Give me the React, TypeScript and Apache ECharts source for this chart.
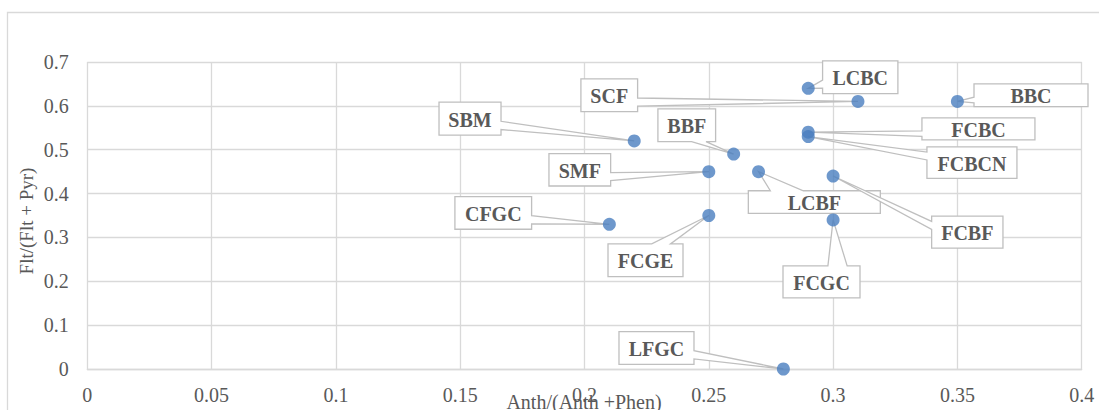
import React, { useEffect, useRef } from "react";
import * as echarts from "echarts";

const names = ["SCF", "SBM", "BBF", "SMF", "CFGC", "FCGE", "LFGC", "LCBC", "BBC", "FCBC", "FCBCN", "LCBF", "FCBF", "FCGC"];
const xValues = [0.31, 0.22, 0.26, 0.25, 0.21, 0.25, 0.28, 0.29, 0.35, 0.29, 0.29, 0.27, 0.30, 0.30];
const yValues = [0.61, 0.52, 0.49, 0.45, 0.33, 0.35, 0.0, 0.64, 0.61, 0.54, 0.53, 0.45, 0.44, 0.34];

// callout box layout: centre offset from the point (px) and box size
const calloutLayout = [
  { dx: -248.7, dy: -6.2, w: 56.7, h: 32.7 },
  { dx: -164.2, dy: -22.4, w: 62, h: 33 },
  { dx: -46.9, dy: -28.8, w: 57.7, h: 32.7 },
  { dx: -129, dy: -1.8, w: 61.7, h: 32.3 },
  { dx: -116.1, dy: -11.3, w: 76.7, h: 32.6 },
  { dx: -63.3, dy: 44.8, w: 75, h: 32.7 },
  { dx: -126.9, dy: -21, w: 75, h: 32.6 },
  { dx: 52, dy: -11, w: 75.3, h: 32.7 },
  { dx: 73.6, dy: -6.2, w: 114, h: 22.7 },
  { dx: 170.2, dy: -3.2, w: 113, h: 22 },
  { dx: 163.7, dy: 26, w: 90, h: 31.5 },
  { dx: 55.8, dy: 30.4, w: 132, h: 22.6 },
  { dx: 134.2, dy: 56, w: 71.3, h: 32 },
  { dx: -11.6, dy: 62, w: 77, h: 32 },
];

const FONT = "Liberation Serif";
const TEXT_COLOR = "#595959";
const GRID_COLOR = "#d9d9d9";

function fmt(v: number) {
  return String(+v.toFixed(2));
}

function calloutPoints(l: number, t: number, w: number, h: number, px: number, py: number) {
  const r = l + w;
  const b = t + h;
  const hc = l + w / 2;
  const vc = t + h / 2;
  const dxPos = px - hc;
  const dyPos = py - vc;
  const dq = (dxPos * h) / w;
  const dz = Math.abs(dyPos) - Math.abs(dq);
  const x1 = l + (w * (dxPos > 0 ? 7 : 2)) / 12;
  const x2 = l + (w * (dxPos > 0 ? 10 : 5)) / 12;
  const y1 = t + (h * (dyPos > 0 ? 7 : 2)) / 12;
  const y2 = t + (h * (dyPos > 0 ? 10 : 5)) / 12;
  const pts: number[][] = [];
  pts.push([l, t], [x1, t]);
  if (dz > 0 && dyPos <= 0) pts.push([px, py]);
  pts.push([x2, t], [r, t], [r, y1]);
  if (dz <= 0 && dxPos > 0) pts.push([px, py]);
  pts.push([r, y2], [r, b], [x2, b]);
  if (dz > 0 && dyPos > 0) pts.push([px, py]);
  pts.push([x1, b], [l, b], [l, y2]);
  if (dz <= 0 && dxPos <= 0) pts.push([px, py]);
  pts.push([l, y1]);
  return pts;
}

export default function App() {
  const ref = useRef<HTMLDivElement>(null);
  useEffect(() => {
    if (!ref.current) return;
    const chart = echarts.init(ref.current, null, { renderer: "svg" });
    const data = names.map((n, i) => [xValues[i], yValues[i], n]);
    chart.setOption({
      animation: false,
      backgroundColor: "#ffffff",
      textStyle: { fontFamily: FONT },
      grid: { left: 87.3, right: 17.3, top: 62, bottom: 41, containLabel: false },
      xAxis: {
        type: "value",
        min: 0,
        max: 0.4,
        interval: 0.05,
        axisLine: { show: true, lineStyle: { color: GRID_COLOR, width: 1.3 } },
        axisTick: { show: false },
        splitLine: { show: true, lineStyle: { color: GRID_COLOR, width: 1.3 } },
        axisLabel: { color: TEXT_COLOR, fontFamily: FONT, fontSize: 20, margin: 16, formatter: fmt },
      },
      yAxis: {
        type: "value",
        min: 0,
        max: 0.7,
        interval: 0.1,
        axisLine: { show: false },
        axisTick: { show: false },
        splitLine: { show: true, lineStyle: { color: GRID_COLOR, width: 1.3 } },
        axisLabel: { color: TEXT_COLOR, fontFamily: FONT, fontSize: 20, margin: 18.5, formatter: fmt },
      },
      series: [
        {
          type: "scatter",
          data,
          symbolSize: 13,
          z: 5,
          itemStyle: { color: "#4a7ebf" },
        },
      ],
    });

    const graphics: any[] = [
      {
        type: "rect",
        shape: { x: 7.5, y: 12.5, width: 1300, height: 600 },
        style: { fill: "none", stroke: GRID_COLOR, lineWidth: 1.3 },
        z: 0,
        silent: true,
      },
      {
        type: "text",
        x: 26,
        y: 221,
        rotation: Math.PI / 2,
        style: {
          text: "Flt/(Flt + Pyr)",
          fontFamily: FONT,
          fontSize: 19,
          fill: TEXT_COLOR,
          align: "center",
          verticalAlign: "middle",
        },
        z: 10,
      },
      {
        type: "text",
        x: 584,
        y: 402,
        style: {
          text: "Anth/(Anth +Phen)",
          fontFamily: FONT,
          fontSize: 20,
          fill: TEXT_COLOR,
          align: "center",
          verticalAlign: "middle",
        },
        z: 10,
      },
    ];

    names.forEach((n, i) => {
      const p = chart.convertToPixel({ gridIndex: 0 }, [xValues[i], yValues[i]]) as number[];
      const lay = calloutLayout[i];
      const cx = p[0] + lay.dx;
      const cy = p[1] + lay.dy;
      const l = cx - lay.w / 2;
      const t = cy - lay.h / 2;
      graphics.push({
        type: "polygon",
        shape: { points: calloutPoints(l, t, lay.w, lay.h, p[0], p[1]) },
        style: { fill: "#ffffff", stroke: "#bfbfbf", lineWidth: 1.3 },
        z: 3,
        silent: true,
      });
      graphics.push({
        type: "text",
        x: cx,
        y: cy + 1,
        style: {
          text: n,
          fontFamily: FONT,
          fontSize: 20,
          fontWeight: "bold",
          fill: TEXT_COLOR,
          align: "center",
          verticalAlign: "middle",
        },
        z: 6,
        silent: true,
      });
    });

    chart.setOption({ graphic: { elements: graphics } });

    return () => chart.dispose();
  }, []);
  return <div ref={ref} style={{ position: "fixed", left: 0, top: 0, width: 1099, height: 410 }} />;
}
